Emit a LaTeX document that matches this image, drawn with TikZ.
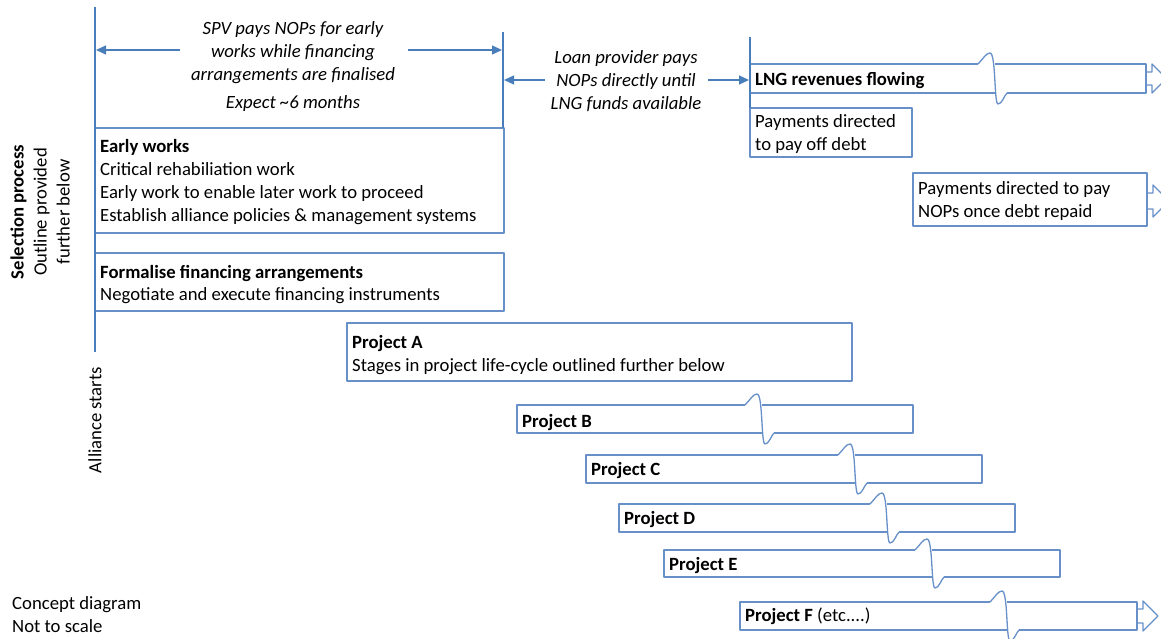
\documentclass[tikz,border=0pt]{standalone}
\usepackage{fontspec}
\setmainfont{Carlito}
\usetikzlibrary{arrows.meta}
\definecolor{axisblue}{HTML}{4A7EBB}
\definecolor{boxblue}{HTML}{6790C8}

% box with a wavy "time break": #1 left, #2 right, #3 top, #4 bottom, #5 break x
\newcommand{\brkbox}[5]{%
  \draw[boxline] ({#5},{#3}) -- ({#2},{#3}) -- ({#2},{#4}) -- ({#5+12},{#4});
  \draw[boxline] ({#5-17},{#3}) -- ({#1},{#3}) -- ({#1},{#4}) -- ({#5},{#4});
  \draw[boxline] ({#5-17},{#3}) .. controls ({#5-12},{#3-5}) and ({#5-9},{#3-11}) .. ({#5-5},{#3-11})
     .. controls ({#5+1},{#3-11}) and ({#5-1},{#4+11}) .. ({#5+3},{#4+11})
     .. controls ({#5+7},{#4+11}) and ({#5+9},{#4+3}) .. ({#5+12},{#4});
}
% open arrow head on the right end of a bar: #1 right edge, #2 centre y, #3 stub half, #4 head half
\newcommand{\tipend}[4]{%
  \draw[boxline] ({#1},{#2-#3}) -- ({#1+6},{#2-#3}) -- ({#1+6},{#2-#4}) -- ({#1+6+#4},{#2})
     -- ({#1+6},{#2+#4}) -- ({#1+6},{#2+#3}) -- ({#1},{#2+#3});
}

\begin{document}
\begin{tikzpicture}[x=1pt,y=-1pt,
  txt/.style={inner sep=0pt, font=\fontsize{18.7}{23}\selectfont, text=black},
  itx/.style={txt, font=\fontsize{18.7}{23}\selectfont\itshape, align=center},
  axis/.style={draw=axisblue, line width=2pt},
  boxline/.style={draw=boxblue, line width=1.3pt, line join=round},
  flow/.style={draw=axisblue, line width=1.3pt, -{Triangle[length=10pt,width=9pt]}},
]
\useasboundingbox (0,0) rectangle (1161,639);
\clip (0,0) rectangle (1161,639);

% plain boxes
\draw[boxline] (95,128) rectangle (504,233);
\draw[boxline] (95,253) rectangle (504,311);
\draw[boxline] (347,323) rectangle (852,381);
\draw[boxline] (750,108) rectangle (912,157);
\draw[boxline] (913,173) rectangle (1147,226);

% bars with breaks
\brkbox{750}{1146}{64}{93}{995}
\brkbox{517}{913}{405}{433}{762}
\brkbox{586}{982}{455}{483}{855}
\brkbox{619}{1015}{504}{532}{887}
\brkbox{664}{1060}{550}{577}{932}
\brkbox{740}{1137}{602}{630}{1007}
\tipend{1146}{78.5}{6.5}{14.5}
\tipend{1147}{201}{8}{16}
\tipend{1137}{616}{7}{15}

% time markers
\coordinate (aTop) at (95,7);
\coordinate (aBot) at (95,352);
\draw[axis] (aTop) -- (aBot);
\coordinate (fTop) at (503,32);
\coordinate (fBot) at (503,128);
\draw[axis] (fTop) -- (fBot);
\coordinate (lTop) at (750,37);
\coordinate (lBot) at (750,108);
\draw[axis] (lTop) -- (lBot);

% period labels
\node[itx] (spv) at (293,53) {SPV pays NOPs for early\\works while financing\\arrangements are finalised};
\node[itx] (exp) at (293,104) {Expect \textasciitilde 6 months};
\node[itx] (loan) at (626,81) {Loan provider pays\\NOPs directly until\\LNG funds available};

\coordinate (spvL) at (180,50);
\coordinate (spvLend) at (96,50);
\coordinate (spvR) at (408,50);
\coordinate (spvRend) at (502,50);
\coordinate (loanL) at (545,80);
\coordinate (loanLend) at (504,80);
\coordinate (loanR) at (708,80);
\coordinate (loanRend) at (749,80);
\draw[flow] (spvL) -- (spvLend);
\draw[flow] (spvR) -- (spvRend);
\draw[flow] (loanL) -- (loanLend);
\draw[flow] (loanR) -- (loanRend);

% box texts
\node[txt,anchor=base west] (ewT) at (100,153) {\textbf{Early works}};
\node[txt,anchor=base west] (ew1) at (100,176) {Critical rehabiliation work};
\node[txt,anchor=base west] (ew2) at (100,198) {Early work to enable later work to proceed};
\node[txt,anchor=base west] (ew3) at (100,221) {Establish alliance policies \& management systems};
\node[txt,anchor=base west] (ffT) at (100,278) {\textbf{Formalise financing arrangements}};
\node[txt,anchor=base west] (ff1) at (100,300) {Negotiate and execute financing instruments};
\node[txt,anchor=base west] (paT) at (352,348) {\textbf{Project A}};
\node[txt,anchor=base west] (pa1) at (352,371) {Stages in project life-cycle outlined further below};
\node[txt,anchor=base west] (pb) at (522,427) {\textbf{Project B}};
\node[txt,anchor=base west] (pc) at (591,475) {\textbf{Project C}};
\node[txt,anchor=base west] (pd) at (624,524) {\textbf{Project D}};
\node[txt,anchor=base west] (pe) at (669,570) {\textbf{Project E}};
\node[txt,anchor=base west] (pf) at (745,621) {\textbf{Project F} (etc....)};
\node[txt,anchor=base west] (lng) at (755,86) {\textbf{LNG revenues flowing}};
\node[txt,anchor=base west] (pd1) at (755,128) {Payments directed};
\node[txt,anchor=base west] (pd2) at (755,151) {to pay off debt};
\node[txt,anchor=base west] (pn1) at (918,194) {Payments directed to pay};
\node[txt,anchor=base west] (pn2) at (918,218) {NOPs once debt repaid};

% side and footer notes
\node[txt,rotate=90,align=center] (sel) at (40,212) {\textbf{Selection process}\\Outline provided\\further below};
\node[txt,rotate=90] (alli) at (95,420) {Alliance starts};
\node[txt,anchor=base west] (cd1) at (12,609) {Concept diagram};
\node[txt,anchor=base west] (cd2) at (12,632) {Not to scale};
\end{tikzpicture}
\end{document}
